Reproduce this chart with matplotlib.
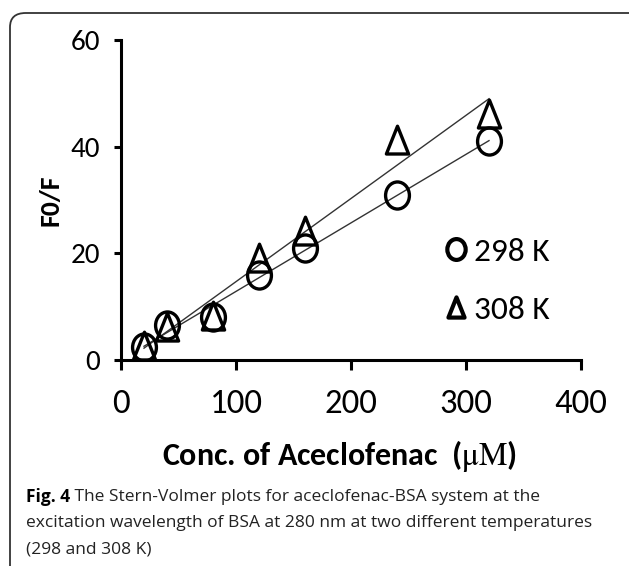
import matplotlib
matplotlib.use("Agg")
import matplotlib.pyplot as plt
import numpy as np
from matplotlib.path import Path
from matplotlib.patches import FancyBboxPatch
from matplotlib.lines import Line2D

plt.rcParams['mathtext.fontset'] = 'stix'

# data
conc = [20, 40, 80, 120, 160, 240, 320]
f0f_298 = [2.5, 6.5, 8, 16, 21, 31, 41]
f0f_308 = [2.5, 6, 8, 19, 24, 41, 46]
series_labels = ["298 K", "308 K"]
x_ticks = [0, 100, 200, 300, 400]
y_ticks = [0, 20, 40, 60]

# Calibri-like face if there is one, else Liberation Sans
cal = ['Carlito', 'Liberation Sans', 'DejaVu Sans']

# slightly tall markers (the original image is stretched vertically)
circle = Path.unit_circle()
circle = Path(circle.vertices * [0.88, 1.0], circle.codes)
tri = Path([(0, 1.1), (-0.8, -0.9), (0.8, -0.9), (0, 1.1)],
           [Path.MOVETO, Path.LINETO, Path.LINETO, Path.CLOSEPOLY])

fig = plt.figure(figsize=(6.29, 5.66), dpi=100)
ax = fig.add_axes([121 / 629, 206 / 566, 460 / 629, 320 / 566])

# linear fits
xs = np.array([20, 320])
for yv in (f0f_298, f0f_308):
    k, b = np.polyfit(conc, yv, 1)
    ax.plot(xs, k * xs + b, color='#333333', lw=1.0, zorder=2)

ax.plot(conc, f0f_298, linestyle='none', marker=circle, markersize=19.5,
        mfc='none', mec='black', mew=2.4, zorder=3)
ax.plot(conc, f0f_308, linestyle='none', marker=tri, markersize=22,
        mfc='none', mec='black', mew=2.4, zorder=3)

ax.set_xlim(0, 400)
ax.set_ylim(0, 60)
ax.set_xticks(x_ticks)
ax.set_yticks(y_ticks)
ax.spines['top'].set_visible(False)
ax.spines['right'].set_visible(False)
for s in ('left', 'bottom'):
    ax.spines[s].set_linewidth(2.2)
ax.tick_params(axis='x', direction='out', length=7, width=2.2, pad=14)
ax.tick_params(axis='y', direction='out', length=5, width=2.2, pad=10)
for lab in ax.get_xticklabels():
    lab.set_fontfamily(cal)
    lab.set_fontsize(25)
for lab in ax.get_yticklabels():
    lab.set_fontfamily(cal)
    lab.set_fontsize(21)

ax.set_xlabel(r'Conc. of Aceclofenac  ($\mathrm{\mu M}$)', family=cal,
              fontsize=23, fontweight='bold')
ax.xaxis.set_label_coords(0.474, -0.243)
ax.set_ylabel('F0/F', family=cal, fontsize=20, fontweight='bold')
ax.yaxis.set_label_coords(-0.128, 0.5)

handles = [Line2D([], [], linestyle='none', marker=circle, markersize=15,
                  mfc='none', mec='black', mew=3),
           Line2D([], [], linestyle='none', marker=tri, markersize=16,
                  mfc='none', mec='black', mew=3)]
ax.legend(handles, series_labels, loc='upper left',
          bbox_to_anchor=(0.634, 0.476), frameon=False, handletextpad=0.15,
          handlelength=0.8, labelspacing=0.9,
          prop={'family': cal, 'size': 24})

# figure frame and caption
frame = FancyBboxPatch((10 / 629, -0.2), 1.2, 1.2 - 13 / 566,
                       boxstyle='round,pad=0,rounding_size=0.025',
                       transform=fig.transFigure, fill=False,
                       ec='#333333', lw=1.3, clip_on=False)
fig.patches.append(frame)

cap = ['Fig. 4', ' The Stern-Volmer plots for aceclofenac-BSA system at the',
       'excitation wavelength of BSA at 280 nm at two different temperatures',
       '(298 and 308 K)']
t = fig.text(26 / 629, 1 - 497 / 566, cap[0], family='Open Sans',
             fontweight='bold', fontsize=12.5, va='center')
fig.canvas.draw()
bb = t.get_window_extent()
fig.text(bb.x1 / 629, 1 - 497 / 566, cap[1], family='Open Sans',
         fontsize=12.5, va='center', color='#222222')
fig.text(26 / 629, 1 - 523 / 566, cap[2], family='Open Sans',
         fontsize=12.5, va='center', color='#222222')
fig.text(26 / 629, 1 - 549 / 566, cap[3], family='Open Sans',
         fontsize=12.5, va='center', color='#222222')

fig.savefig('out.png', dpi=100)
